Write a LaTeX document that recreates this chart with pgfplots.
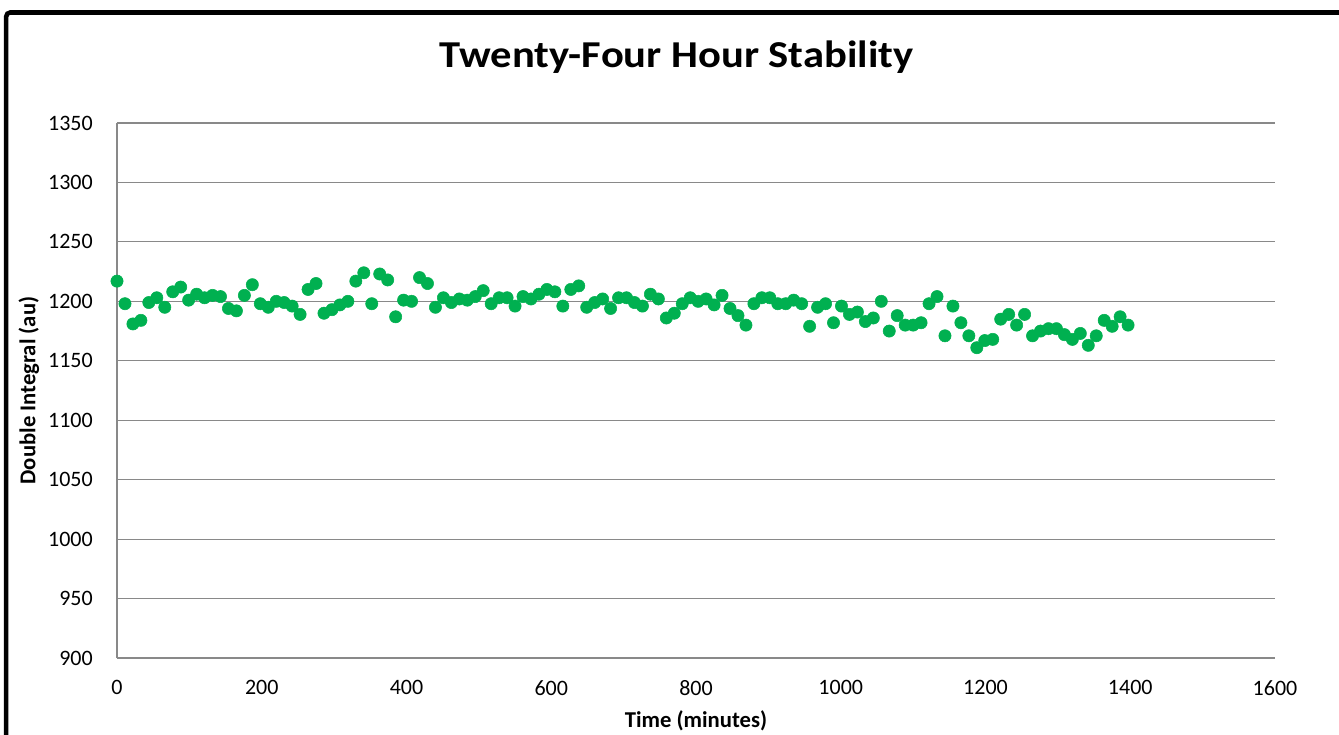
\documentclass[border=0pt]{standalone}
\usepackage{pgfplots}
\pgfplotsset{compat=1.18}
\usepackage{pgfplotstable}
\usepackage{fontspec}
\setmainfont{Carlito}
\definecolor{dotgreen}{HTML}{00B050}
\definecolor{gridgray}{HTML}{898989}

% minutes vs double integral
\pgfplotstableread{
t v
0 1217
11 1198
22 1181
33 1184
44 1199
55 1203
66 1195
77 1208
88 1212
99 1201
110 1206
121 1203
132 1205
143 1204
154 1194
165 1192
176 1205
187 1214
198 1198
209 1195
220 1200
231 1199
242 1196
253 1189
264 1210
275 1215
286 1190
297 1193
308 1197
319 1200
330 1217
341 1224
352 1198
363 1223
374 1218
385 1187
396 1201
407 1200
418 1220
429 1215
440 1195
451 1203
462 1199
473 1202
484 1201
495 1204
506 1209
517 1198
528 1203
539 1203
550 1196
561 1204
572 1202
583 1206
594 1210
605 1208
616 1196
627 1210
638 1213
649 1195
660 1199
671 1202
682 1194
693 1203
704 1203
715 1199
726 1196
737 1206
748 1202
759 1186
770 1190
781 1198
792 1203
803 1200
814 1202
825 1197
836 1205
847 1194
858 1188
869 1180
880 1198
891 1203
902 1203
913 1198
924 1198
935 1201
946 1198
957 1179
968 1195
979 1198
990 1182
1001 1196
1012 1189
1023 1191
1034 1183
1045 1186
1056 1200
1067 1175
1078 1188
1089 1180
1100 1180
1111 1182
1122 1198
1133 1204
1144 1171
1155 1196
1166 1182
1177 1171
1188 1161
1199 1167
1210 1168
1221 1185
1232 1189
1243 1180
1254 1189
1265 1171
1276 1175
1287 1177
1298 1177
1309 1172
1320 1168
1331 1173
1342 1163
1353 1171
1364 1184
1375 1179
1386 1187
1397 1180
}\stabdata

\begin{document}
\begin{tikzpicture}
\useasboundingbox (0,0) rectangle (1339*0.75pt,-735*0.75pt);
% outer chart frame (cut off at right and bottom)
\draw[black, line width=3.4pt, rounded corners=3pt]
  (6.2*0.75pt,-760*0.75pt) -- (6.2*0.75pt,-12.5*0.75pt) -- (1360*0.75pt,-12.5*0.75pt);
\node[anchor=base, xscale=1.12, font=\fontsize{28.5}{33}\selectfont\bfseries]
  at (676.5*0.75pt,-68*0.75pt) {Twenty-Four Hour Stability};

\begin{axis}[
 at={(117*0.75pt,-658*0.75pt)}, anchor=south west,
 scale only axis, width=868.5pt, height=401.25pt,
 xmin=0, xmax=1600, ymin=900, ymax=1350,
 xtick={0,200,...,1600}, ytick={900,950,...,1350},
 axis x line*=bottom, axis y line*=left,
 axis line style={gridgray, line width=0.8pt},
 major tick length=0pt,
 ymajorgrids,
 grid style={gridgray, line width=0.8pt},
 /pgf/number format/assume math mode=true,
 /pgf/number format/1000 sep={},
 tick label style={font=\fontsize{16.5}{20}\selectfont},
 yticklabel style={anchor=east, inner sep=0pt, xshift=-18pt},
 xticklabel style={anchor=north, inner sep=0pt, yshift=-16.5pt},
 xlabel={Time (minutes)},
 ylabel={Double Integral (au)},
 label style={font=\fontsize{17}{20}\selectfont\bfseries},
 xlabel style={at={(axis description cs:0.5,-0.118)}, anchor=center},
 ylabel style={at={(axis description cs:-0.076,0.5)}, anchor=center, rotate=0},
 clip=false,
]
\addplot[only marks, mark=*, mark size=4.6pt, dotgreen, mark options={draw=none, fill=dotgreen}]
  table[x=t, y=v] {\stabdata};
\end{axis}
\end{tikzpicture}
\end{document}
